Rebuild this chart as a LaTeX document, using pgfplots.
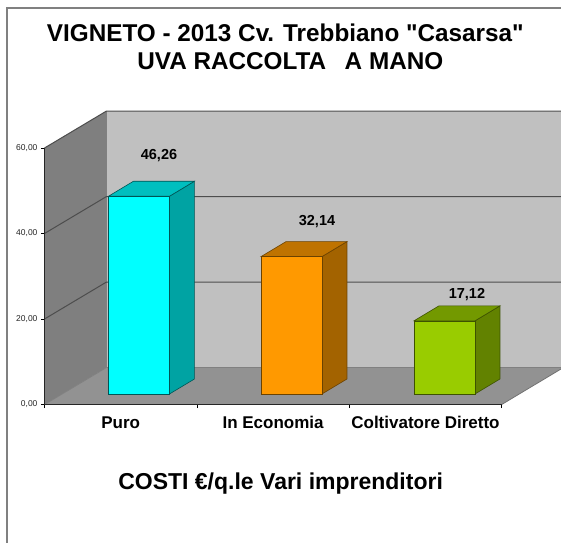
\documentclass[border=0pt]{standalone}
\usepackage{fontspec}
\setmainfont[Ligatures=TeXOff]{Liberation Sans}
\usepackage{pgfplots}
\pgfplotsset{compat=1.18}
\definecolor{wallback}{HTML}{C0C0C0}
\definecolor{wallside}{HTML}{7F7F7F}
\definecolor{wallfloor}{HTML}{929292}
\definecolor{gridc}{HTML}{4D4D4D}
\definecolor{cyF}{HTML}{00FFFF}\definecolor{cyT}{HTML}{00BFBF}\definecolor{cyS}{HTML}{00A3A3}\definecolor{cyE}{HTML}{005555}
\definecolor{orF}{HTML}{FF9900}\definecolor{orT}{HTML}{BF7300}\definecolor{orS}{HTML}{A36300}\definecolor{orE}{HTML}{6B4200}
\definecolor{grF}{HTML}{99CC00}\definecolor{grT}{HTML}{739900}\definecolor{grS}{HTML}{628200}\definecolor{grE}{HTML}{3D5200}
\begin{document}
\begin{tikzpicture}[x=1pt,y=1pt]
\useasboundingbox (0,0) rectangle (561,542);
\clip (0,0) rectangle (561,542);
\draw[color=gray,line width=1.4pt] (7,-5) -- (7,534) -- (570,534);
\begin{axis}[
  at={(44.5pt,137.5pt)}, anchor=south west,
  scale only axis, width=457.2pt, height=256.5pt,
  xmin=-0.5, xmax=2.5, ymin=0, ymax=60,
  clip=false, axis on top=true,
  axis x line*=bottom, axis y line*=left,
  axis line style={-,color=black!85,line width=0.8pt},
  xtick={0,1,2},
  xticklabels={Puro,In Economia,Coltivatore Diretto},
  minor xtick={-0.5,0.5,1.5,2.5},
  ytick={0,20,40,60},
  tick align=outside,
  major tick length=3.5pt, minor tick length=3.5pt,
  every major x tick/.style={draw=none},
  tick style={color=black,line width=0.7pt},
  x tick label style={font=\fontsize{17}{19}\selectfont\bfseries, yshift=-5pt},
  y tick label style={font=\fontsize{8.5}{10}\selectfont, text=black!85},
  /pgf/number format/.cd, fixed, fixed zerofill, precision=2, use comma, assume math mode=true,
  /pgfplots/.cd,
  title={VIGNETO - 2013 Cv. Trebbiano "Casarsa"\\\hspace*{10pt}UVA RACCOLTA\ \ \hspace{5pt}A MANO},
  title style={align=center, font=\fontsize{24.3}{28.5}\selectfont\bfseries, at={(0.5267,1.3704)}, anchor=center, yshift=0pt},
  xlabel={COSTI €/q.le Vari imprenditori},
  xlabel style={font=\fontsize{23}{26}\selectfont\bfseries, at={(0.5164,-0.31)}, anchor=center, yshift=0pt},
]
% walls and floor
\addplot[fill=wallback,draw=none] coordinates {(-0.093,8.655) (-0.093,68.655) (2.889,68.655) (2.889,8.655)} --cycle;
\addplot[fill=wallside,draw=none] coordinates {(-0.5,0) (-0.5,60) (-0.093,68.655) (-0.093,8.655)} --cycle;
\addplot[fill=wallfloor,draw=none] coordinates {(-0.5,0) (-0.093,8.655) (2.889,8.655) (2.889,8.30) (2.5,0)} --cycle;
% floor edges
\addplot[color=black!50,line width=0.8pt] coordinates {(-0.5,0) (-0.093,8.655) (2.889,8.655)};
\addplot[color=black!50,line width=0.8pt] coordinates {(-0.093,8.655) (-0.093,68.655)};
\addplot[color=black!55,line width=0.8pt] coordinates {(2.5,0) (2.889,8.30)};
% gridlines
\addplot[color=gridc,line width=1pt] coordinates {(-0.5,20) (-0.093,28.655) (2.889,28.655)};
\addplot[color=gridc,line width=1pt] coordinates {(-0.5,40) (-0.093,48.655) (2.889,48.655)};
\addplot[color=gridc,line width=1pt] coordinates {(-0.5,60) (-0.093,68.655) (2.889,68.655)};
% Puro
\addplot[fill=cyS,draw=cyE,line width=0.6pt,xshift=18.25pt,yshift=10.5pt] coordinates {(0.2,0) (0.2,46.26) (0.364,49.77) (0.364,3.51)} --cycle;
\addplot[fill=cyT,draw=cyE,line width=0.6pt,xshift=18.25pt,yshift=10.5pt] coordinates {(-0.2,46.26) (0.2,46.26) (0.364,49.77) (-0.036,49.77)} --cycle;
\addplot[ybar,bar width=61pt,bar shift=0pt,fill=cyF,draw=cyE,line width=0.6pt,xshift=18.25pt,yshift=10.5pt] coordinates {(0,46.26)};
% In Economia
\addplot[fill=orS,draw=orE,line width=0.6pt,xshift=18.4pt,yshift=10.5pt] coordinates {(1.2,0) (1.2,32.14) (1.364,35.65) (1.364,3.51)} --cycle;
\addplot[fill=orT,draw=orE,line width=0.6pt,xshift=18.4pt,yshift=10.5pt] coordinates {(0.8,32.14) (1.2,32.14) (1.364,35.65) (0.964,35.65)} --cycle;
\addplot[ybar,bar width=61pt,bar shift=0pt,fill=orF,draw=orE,line width=0.6pt,xshift=18.4pt,yshift=10.5pt] coordinates {(1,32.14)};
% Coltivatore Diretto
\addplot[fill=grS,draw=grE,line width=0.6pt,xshift=19pt,yshift=10.5pt] coordinates {(2.2,0) (2.2,17.12) (2.364,20.63) (2.364,3.51)} --cycle;
\addplot[fill=grT,draw=grE,line width=0.6pt,xshift=19pt,yshift=10.5pt] coordinates {(1.8,17.12) (2.2,17.12) (2.364,20.63) (1.964,20.63)} --cycle;
\addplot[ybar,bar width=61pt,bar shift=0pt,fill=grF,draw=grE,line width=0.6pt,xshift=19pt,yshift=10.5pt] coordinates {(2,17.12)};
% value labels
\node[font=\fontsize{14.5}{16}\selectfont\bfseries] at (axis cs:0.2513,58.15) {46,26};
\node[font=\fontsize{14.5}{16}\selectfont\bfseries] at (axis cs:1.288,42.75) {32,14};
\node[font=\fontsize{14.5}{16}\selectfont\bfseries] at (axis cs:2.272,25.65) {17,12};
\end{axis}
\end{tikzpicture}
\end{document}
